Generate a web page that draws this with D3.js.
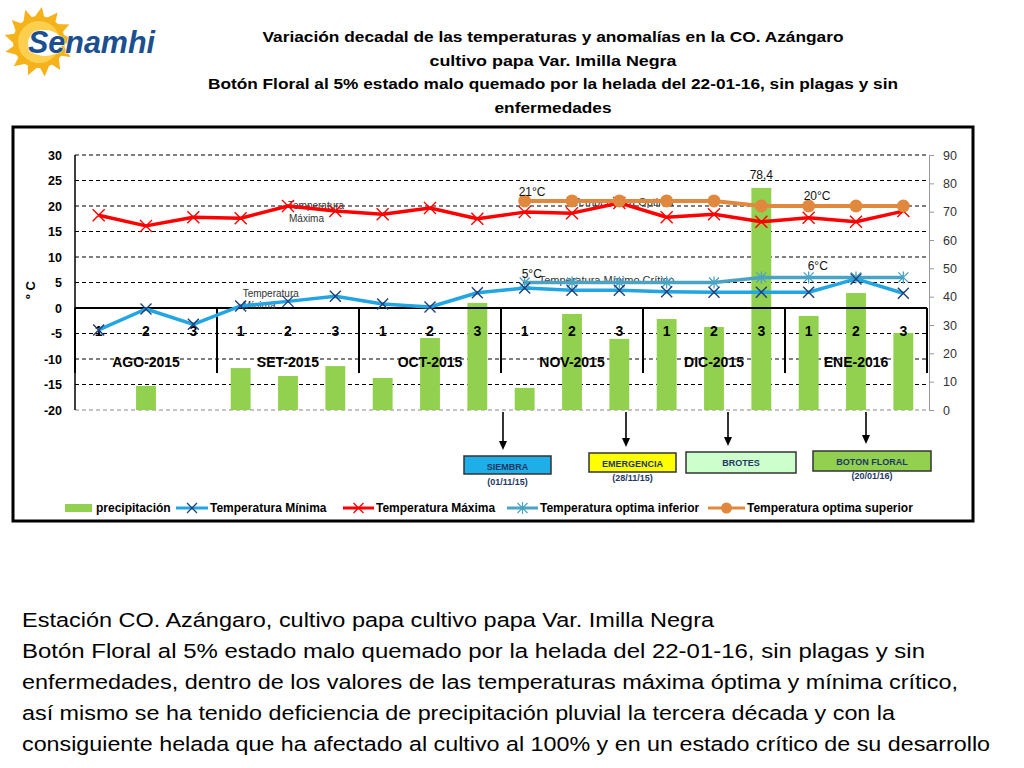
<!DOCTYPE html>
<html><head><meta charset="utf-8">
<script src="https://cdn.jsdelivr.net/npm/d3@7"></script>
<style>body{margin:0;background:#fff}svg{display:block;font-family:"Liberation Sans",Arial,sans-serif}</style>
</head><body>
<svg id="c" width="1024" height="768"></svg>
<script>
// ---- data ----
const decadas = ["1","2","3","1","2","3","1","2","3","1","2","3","1","2","3","1","2","3"];
const meses = ["AGO-2015","SET-2015","OCT-2015","NOV-2015","DIC-2015","ENE-2016"];
const precipitacion = [0, 8.5, 0, 14.8, 12.0, 15.5, 11.3, 25.4, 37.8, 7.8, 33.9, 25.1, 32.1, 29.3, 78.4, 33.2, 41.3, 27.2];
const tMinima = [-4.3, -0.2, -3.2, 0.4, 1.3, 2.3, 0.8, 0.2, 3.0, 3.9, 3.5, 3.5, 3.2, 3.1, 3.1, 3.1, 5.7, 2.9];
const tMaxima = [18.2, 16.1, 17.8, 17.6, 20.0, 19.0, 18.4, 19.6, 17.5, 18.8, 18.6, 20.6, 17.8, 18.4, 16.9, 17.7, 16.9, 19.0];
const tOptInf = [null,null,null,null,null,null,null,null,null, 5,5,5,5,5,6,6,6,6];
const tOptSup = [null,null,null,null,null,null,null,null,null, 21,21,21,21,21,20,20,20,20];
const leftTicks = [30,25,20,15,10,5,0,-5,-10,-15,-20];
const rightTicks = [0,10,20,30,40,50,60,70,80,90];
const titleLines = ["Variación decadal de las temperaturas y anomalías en la CO. Azángaro",
  "cultivo papa Var. Imilla Negra",
  "Botón Floral al 5% estado malo quemado por la helada del 22-01-16, sin plagas y sin",
  "enfermedades"];
const paragraph = ["Estación CO. Azángaro, cultivo papa cultivo papa Var. Imilla Negra",
  "Botón Floral al 5% estado malo quemado por la helada del 22-01-16, sin plagas y sin",
  "enfermedades, dentro de los valores de las temperaturas máxima óptima y mínima crítico,",
  "así mismo se ha tenido deficiencia de precipitación pluvial la tercera década y con la",
  "consiguiente helada que ha afectado al cultivo al 100% y en un estado crítico de su desarrollo"];
const etapas = [
  {name:"SIEMBRA", date:"(01/11/15)", fill:"#1eaee8"},
  {name:"EMERGENCIA", date:"(28/11/15)", fill:"#ffff00"},
  {name:"BROTES", date:"", fill:"#ccffcc"},
  {name:"BOTON FLORAL", date:"(20/01/16)", fill:"#92d050"}
];

const svg = d3.select("#c");
const L = 75, R = 927, T = 155, B = 410;
const x = d3.scaleBand().domain(d3.range(18)).range([L,R]).paddingInner(0.58).paddingOuter(0.29);
const cx = i => x(i) + x.bandwidth()/2;
const yL = d3.scaleLinear().domain([-20,30]).range([B,T]);
const yR = d3.scaleLinear().domain([0,90]).range([B,T]);

// ---- logo ----
const logo = svg.append("g");
const sc = [39,42];
const nR = 13;
const rays = d3.range(nR).map(k => {
  const a = k/nR*2*Math.PI - Math.PI/2;
  const a1 = a - 0.24, a2 = a + 0.24;
  return [[sc[0]+24*Math.cos(a1), sc[1]+24*Math.sin(a1)],[sc[0]+35*Math.cos(a+0.08), sc[1]+35*Math.sin(a+0.08)],[sc[0]+24*Math.cos(a2), sc[1]+24*Math.sin(a2)]];
});
logo.selectAll("path.ray").data(rays).join("path").attr("d", d => "M"+d.join("L")+"Z").attr("fill","#f5b21a");
logo.append("circle").attr("cx",sc[0]).attr("cy",sc[1]).attr("r",26).attr("fill","#f5b21a");
logo.append("circle").attr("cx",sc[0]).attr("cy",sc[1]).attr("r",21).attr("fill","#fcd04e");
logo.append("ellipse").attr("cx",sc[0]+6).attr("cy",sc[1]+1).attr("rx",17).attr("ry",13).attr("fill","#fff");
logo.append("text").attr("x",28).attr("y",53).attr("font-size",32).attr("font-weight","bold").attr("font-style","italic")
  .attr("fill","#1c4f8f").attr("stroke","#fff").attr("stroke-width",1).attr("paint-order","stroke")
  .text("Senamhi").attr("textLength",127).attr("lengthAdjust","spacingAndGlyphs");

// ---- title ----
const tW = [581, 247, 690, 117];
svg.append("g").selectAll("text").data(titleLines).join("text")
  .attr("x",553).attr("y",(d,i)=>42+i*23.5).attr("text-anchor","middle")
  .attr("font-size",15).attr("font-weight","bold").attr("fill","#000")
  .attr("textLength",(d,i)=>tW[i]).attr("lengthAdjust","spacingAndGlyphs").text(d=>d);

// ---- frame ----
svg.append("rect").attr("x",13).attr("y",127).attr("width",960).attr("height",394)
  .attr("fill","#fff").attr("stroke","#000").attr("stroke-width",3);

// ---- gridlines ----
svg.append("g").selectAll("line").data(leftTicks).join("line")
  .attr("x1",L).attr("x2",R).attr("y1",d=>yL(d)).attr("y2",d=>yL(d))
  .attr("stroke",d=>d===-20?"#888":"#000").attr("stroke-width",1.2).attr("stroke-dasharray","4,3");

// ---- bars ----
svg.append("g").selectAll("rect").data(precipitacion).join("rect")
  .attr("x",(d,i)=>x(i)).attr("width",x.bandwidth())
  .attr("y",d=>yR(d)).attr("height",d=>yR(0)-yR(d)).attr("fill","#92d050");

// ---- axes ----
const gl = svg.append("g");
gl.append("line").attr("x1",L).attr("x2",L).attr("y1",T).attr("y2",B).attr("stroke","#000").attr("stroke-width",1.5);
gl.selectAll("text").data(leftTicks).join("text").attr("x",62).attr("y",d=>yL(d)+4.5)
  .attr("text-anchor","end").attr("font-size",12.5).attr("font-weight","bold").text(d=>d);
svg.append("text").attr("transform","translate(35,290) rotate(-90)").attr("text-anchor","middle")
  .attr("font-size",13).attr("font-weight","bold").text("º C");

const gr = svg.append("g").attr("transform",`translate(${R+2},0)`);
gr.call(d3.axisRight(yR).tickValues(rightTicks).tickSize(5).tickPadding(9));
gr.select(".domain").attr("stroke","#999");
gr.selectAll(".tick line").attr("stroke","#999");
gr.selectAll(".tick text").attr("font-size",12.5).attr("fill","#333").attr("font-family","Liberation Sans, Arial, sans-serif");

// category axis at y=0
const y0 = yL(0);
svg.append("line").attr("x1",L).attr("x2",R).attr("y1",y0).attr("y2",y0).attr("stroke","#000").attr("stroke-width",2);
const sepIdx = d3.range(0,19,3);
const step = x.step();
svg.append("g").selectAll("line").data(sepIdx).join("line")
  .attr("x1",d=>L+d*step).attr("x2",d=>L+d*step).attr("y1",y0).attr("y2",y0+65)
  .attr("stroke","#000").attr("stroke-width",2);
svg.append("g").selectAll("text").data(decadas).join("text")
  .attr("x",(d,i)=>cx(i)).attr("y",y0+28).attr("text-anchor","middle")
  .attr("font-size",14).attr("font-weight","bold").text(d=>d);
svg.append("g").selectAll("text").data(meses).join("text")
  .attr("x",(d,i)=>cx(i*3+1)).attr("y",y0+59).attr("text-anchor","middle")
  .attr("font-size",14).attr("font-weight","bold").text(d=>d);

// ---- in-chart labels (under lines) ----
const lab = svg.append("g").attr("font-size",10).attr("fill","#333");
lab.append("text").attr("x",cx(4)).attr("y",yL(20)+3).text("Temperatura");
lab.append("text").attr("x",cx(4)+1).attr("y",yL(20)+16).text("Máxima");
lab.append("text").attr("x",cx(3)+2).attr("y",yL(2.1)).text("Temperatura");
lab.append("text").attr("x",cx(3)+2).attr("y",yL(-0.2)).text("Mínima");
lab.append("text").attr("x",cx(11)-46).attr("y",yL(20.8)+4).attr("font-size",11).text("Temperatura Optima");
lab.append("text").attr("x",cx(9)+14).attr("y",yL(5)+1).attr("font-size",11).text("Temperatura Mínimo Crítico");

// ---- lines ----
function series(data, color, width, yScale){
  const line = d3.line().defined(d=>d!==null).x((d,i)=>cx(i)).y(d=>yScale(d));
  svg.append("path").datum(data).attr("d",line).attr("fill","none").attr("stroke",color).attr("stroke-width",width).attr("stroke-linejoin","round");
}
function crosses(data, color, s, sw){
  svg.append("g").selectAll("path").data(data.map((d,i)=>[d,i]).filter(p=>p[0]!==null)).join("path")
    .attr("d",p=>{const X=cx(p[1]),Y=yL(p[0]);return `M${X-s},${Y-s}L${X+s},${Y+s}M${X-s},${Y+s}L${X+s},${Y-s}`;})
    .attr("stroke",color).attr("stroke-width",sw).attr("fill","none");
}
function stars(data, color, s, sw){
  svg.append("g").selectAll("path").data(data.map((d,i)=>[d,i]).filter(p=>p[0]!==null)).join("path")
    .attr("d",p=>{const X=cx(p[1]),Y=yL(p[0]);return `M${X-s},${Y-s}L${X+s},${Y+s}M${X-s},${Y+s}L${X+s},${Y-s}M${X},${Y-s-1}L${X},${Y+s+1}`;})
    .attr("stroke",color).attr("stroke-width",sw).attr("fill","none");
}
series(tOptInf, "#4aa3c2", 3.5, yL);
stars(tOptInf, "#4aa3c2", 5, 1.3);
series(tMinima, "#21a6e3", 3.5, yL);
crosses(tMinima, "#1f3f7a", 5.5, 1.4);
series(tMaxima, "#ff0000", 3.5, yL);
crosses(tMaxima, "#ff0000", 6, 1.4);
series(tOptSup, "#e0893e", 4, yL);
svg.append("g").selectAll("circle").data(tOptSup.map((d,i)=>[d,i]).filter(p=>p[0]!==null)).join("circle")
  .attr("cx",p=>cx(p[1])).attr("cy",p=>yL(p[0])).attr("r",6.5).attr("fill","#e0893e");

// ---- value labels ----
const vl = svg.append("g").attr("font-size",12).attr("fill","#111");
vl.append("text").attr("x",cx(9)-6).attr("y",yL(tOptSup[9])-5).text(tOptSup[9]+"°C");
vl.append("text").attr("x",cx(15)-5).attr("y",yL(tOptSup[15])-6).text(tOptSup[15]+"°C");
vl.append("text").attr("x",cx(9)-3).attr("y",yL(tOptInf[9])-5).text(tOptInf[9]+"°C");
vl.append("text").attr("x",cx(15)-1).attr("y",yL(tOptInf[15])-7).text(tOptInf[15]+"°C");
vl.append("text").attr("x",cx(14)).attr("y",yR(precipitacion[14])-9).attr("text-anchor","middle").text(String(precipitacion[14]).replace(".",","));

// ---- legend ----
const lg = svg.append("g").attr("font-size",12).attr("font-weight","bold");
lg.append("rect").attr("x",65).attr("y",504).attr("width",27).attr("height",8).attr("fill","#92d050");
lg.append("text").attr("x",96).attr("y",512).text("precipitación");
function legLine(x1,x2,color,marker,label){
  lg.append("line").attr("x1",x1).attr("x2",x2).attr("y1",508).attr("y2",508).attr("stroke",color).attr("stroke-width",3);
  const m=(x1+x2)/2;
  if(marker==="x"||marker==="xr") lg.append("path").attr("d",`M${m-5},503L${m+5},513M${m-5},513L${m+5},503`).attr("stroke",marker==="x"?"#1f3f7a":"#ff0000").attr("stroke-width",1.3);
  if(marker==="star") lg.append("path").attr("d",`M${m-5},503L${m+5},513M${m-5},513L${m+5},503M${m},502L${m},514`).attr("stroke",color).attr("stroke-width",1.2);
  if(marker==="dot") lg.append("circle").attr("cx",m).attr("cy",508).attr("r",5.5).attr("fill",color);
  lg.append("text").attr("x",x2+2).attr("y",512).text(label);
}
legLine(176,208,"#21a6e3","x","Temperatura Mínima");
legLine(343,374,"#ff0000","xr","Temperatura Máxima");
legLine(507,538,"#4aa3c2","star","Temperatura optima inferior");
legLine(708,745,"#e0893e","dot","Temperatura optima superior");

// ---- phenology boxes ----
const boxes = [
  {x:464,w:87,y:456,h:18,ty:470,dy:485},
  {x:589,w:87,y:453,h:19,ty:467,dy:481},
  {x:686,w:110,y:452,h:21,ty:466,dy:0},
  {x:813,w:118,y:451,h:20,ty:465,dy:479}
];
const arrowX = [503, 626, 728, 866];
const arrowEnd = [450, 447, 446, 444];
const pg = svg.append("g");
etapas.forEach((e,k)=>{
  const b = boxes[k];
  pg.append("line").attr("x1",arrowX[k]).attr("x2",arrowX[k]).attr("y1",B+2).attr("y2",arrowEnd[k]-8)
    .attr("stroke","#000").attr("stroke-width",1.6);
  pg.append("path").attr("d",`M${arrowX[k]-4},${arrowEnd[k]-9}L${arrowX[k]+4},${arrowEnd[k]-9}L${arrowX[k]},${arrowEnd[k]}Z`).attr("fill","#000");
  pg.append("rect").attr("x",b.x).attr("y",b.y).attr("width",b.w).attr("height",b.h).attr("fill",e.fill).attr("stroke","#333").attr("stroke-width",1.5);
  pg.append("text").attr("x",b.x+b.w/2).attr("y",b.ty).attr("text-anchor","middle").attr("font-size",9).attr("font-weight","bold").attr("fill","#1f3864").text(e.name);
  if(e.date) pg.append("text").attr("x",b.x+b.w/2).attr("y",b.dy).attr("text-anchor","middle").attr("font-size",9).attr("font-weight","bold").attr("fill","#1f3864").text(e.date);
});

// ---- paragraph ----
const pW = [692, 903, 936, 873, 968];
svg.append("g").selectAll("text").data(paragraph).join("text")
  .attr("x",22).attr("y",(d,i)=>627+i*31).attr("font-size",20.5).attr("fill","#000")
  .attr("textLength",(d,i)=>pW[i]).attr("lengthAdjust","spacingAndGlyphs").text(d=>d);
</script>
</body></html>
